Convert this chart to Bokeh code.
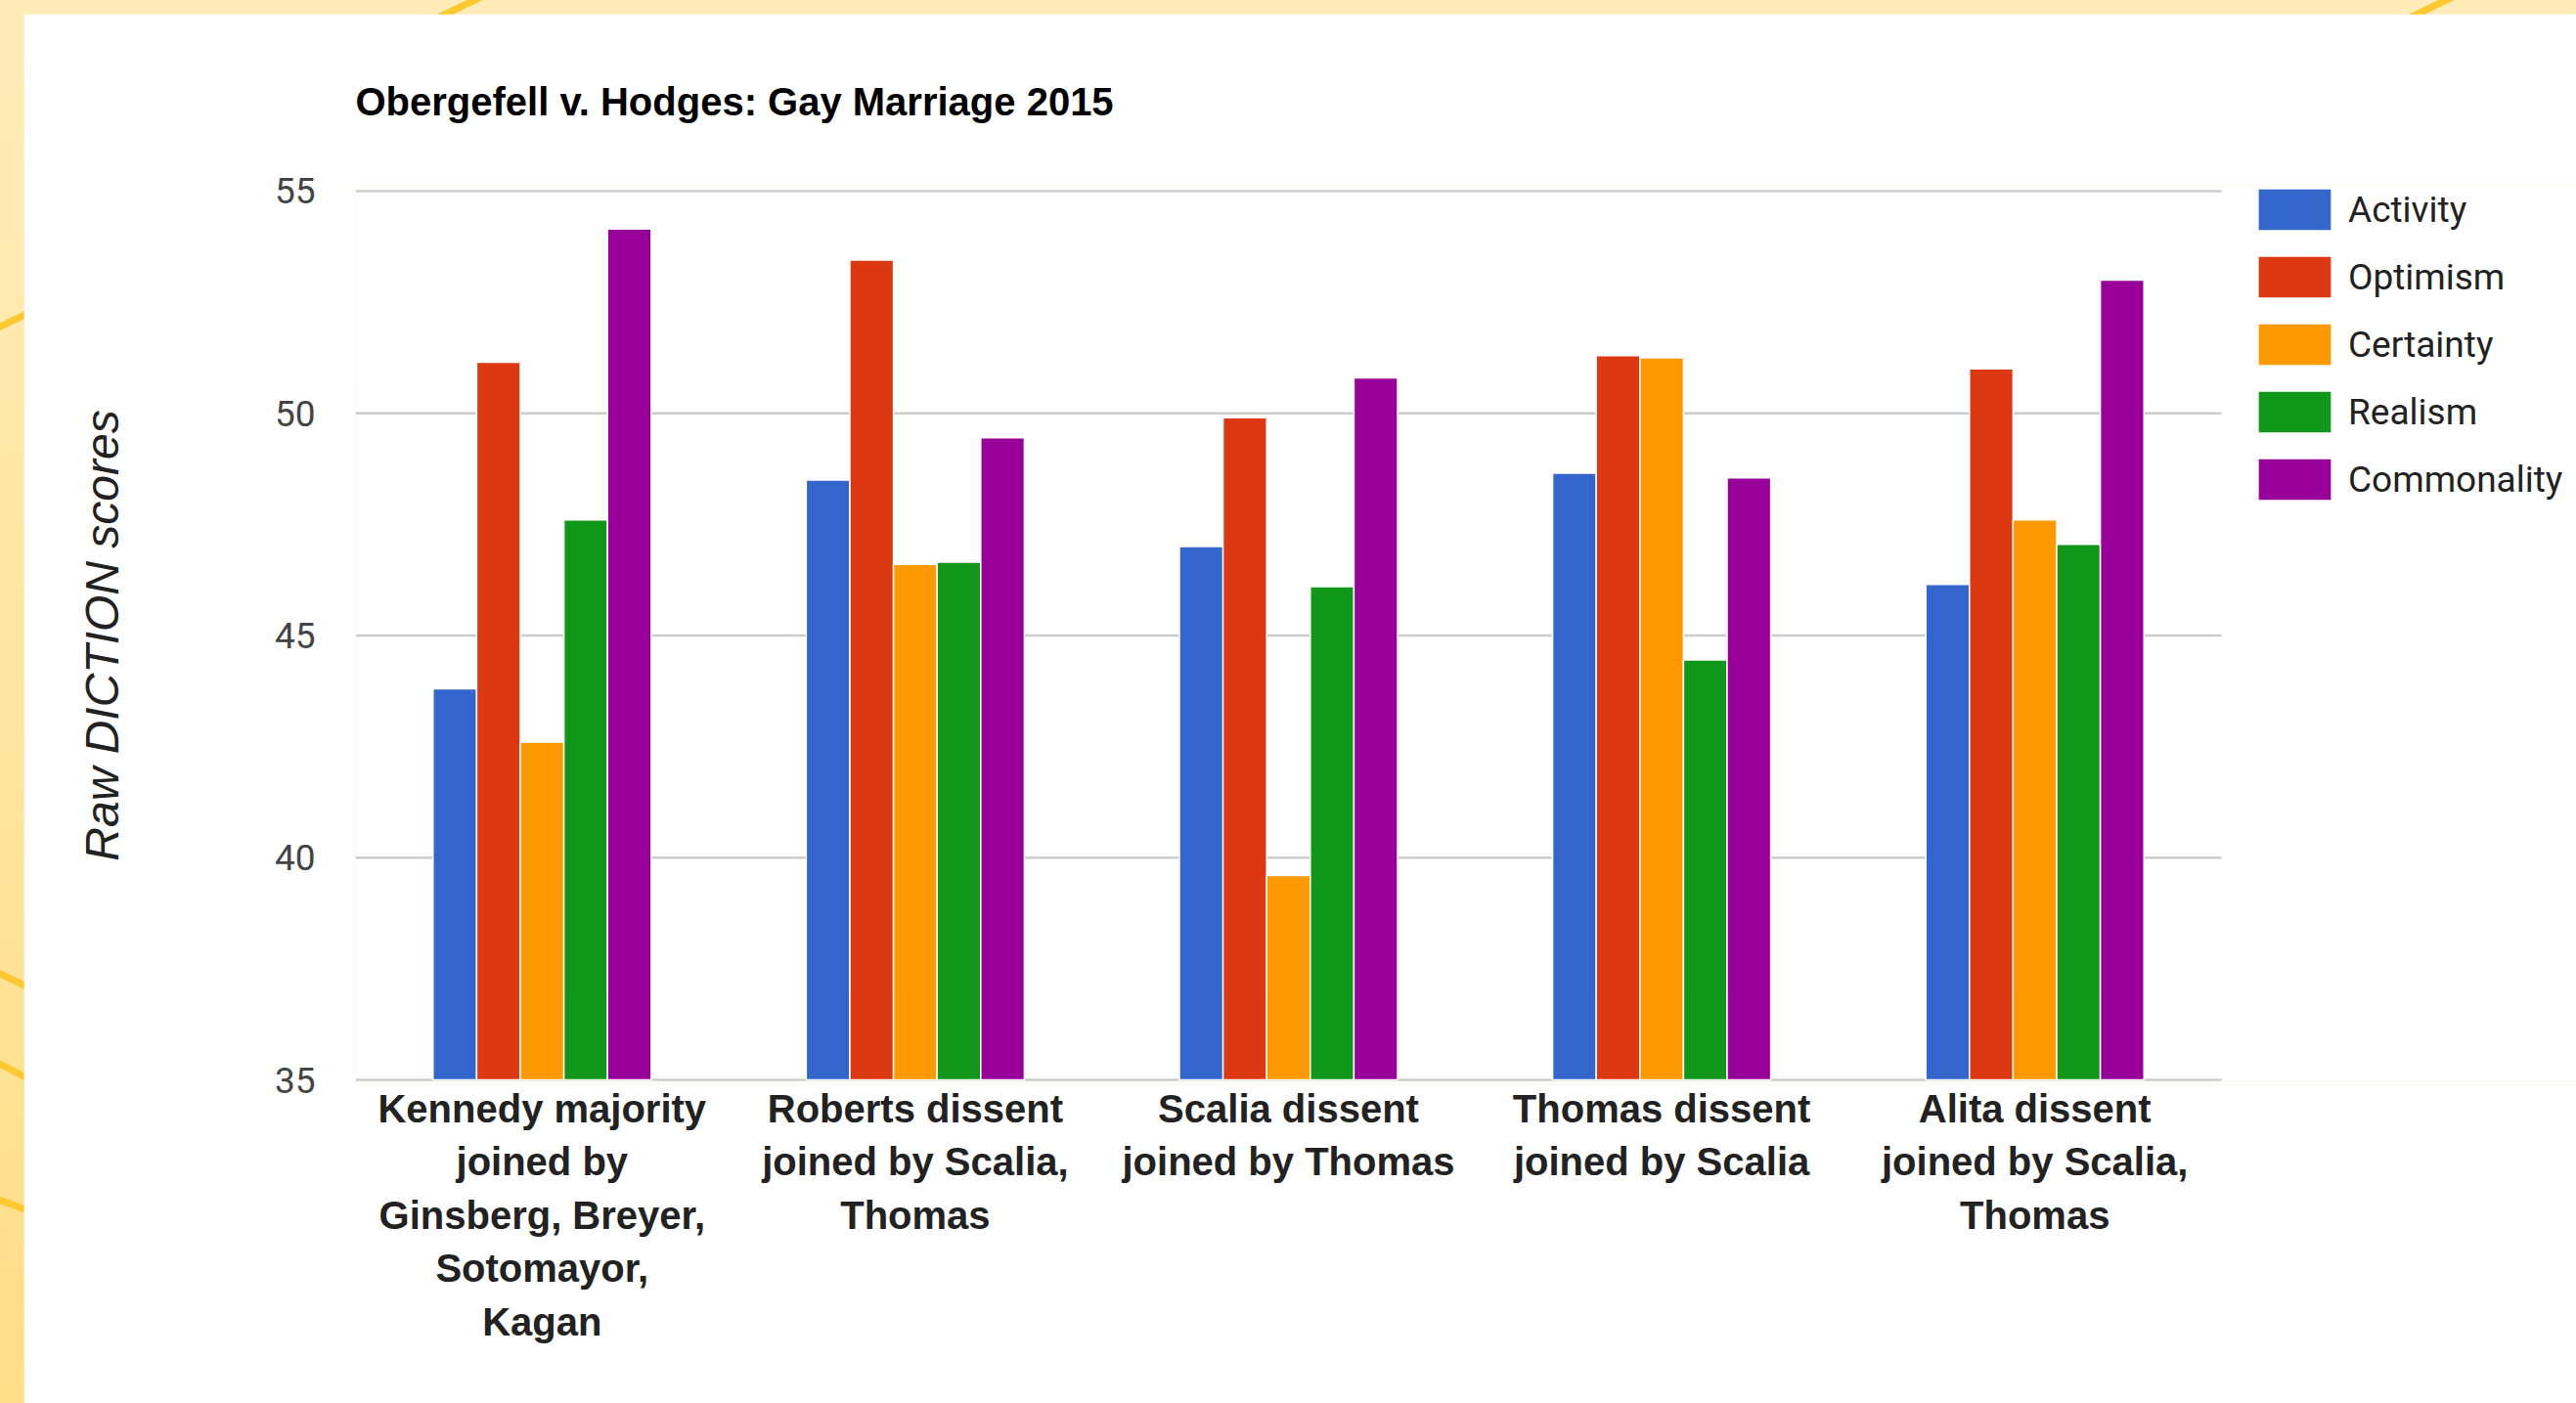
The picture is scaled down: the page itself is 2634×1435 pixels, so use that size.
from bokeh.plotting import figure
from bokeh.layouts import column, row
from bokeh.models import (ColumnDataSource, Legend, LegendItem, Range1d,
                          FixedTicker, GlobalInlineStyleSheet, Spacer)
from bokeh.transform import dodge
from bokeh.embed import file_html
from bokeh.resources import INLINE

# ---------------- data ----------------
title_text = "Obergefell v. Hodges: Gay Marriage 2015"
y_title = "Raw DICTION scores"
categories = [
    "Kennedy majority\njoined by\nGinsberg, Breyer,\nSotomayor,\nKagan",
    "Roberts dissent\njoined by Scalia,\nThomas",
    "Scalia dissent\njoined by Thomas",
    "Thomas dissent\njoined by Scalia",
    "Alita dissent\njoined by Scalia,\nThomas",
]
series_names = ["Activity", "Optimism", "Certainty", "Realism", "Commonality"]
activity = [43.8, 48.5, 47.0, 48.65, 46.15]
optimism = [51.15, 53.45, 49.9, 51.3, 51.0]
certainty = [42.6, 46.6, 39.6, 51.25, 47.6]
realism = [47.6, 46.65, 46.1, 44.45, 47.05]
commonality = [54.15, 49.45, 50.8, 48.55, 53.0]
y_ticks = [35, 40, 45, 50, 55]

series_values = [activity, optimism, certainty, realism, commonality]
colors = ["#3366CC", "#DC3912", "#FF9900", "#109618", "#990099"]

# ---------------- layout constants ----------------
W, H = 2610, 1421
BL, BT = 339, 174
FH = 921
BB = H - BT - FH
FW = W - BL
CAT_PX = 381.6            # pixel width of one category slot
Y_PAD = 0.11              # small padding so the top grid line is not clipped

xs = list(range(len(categories)))
p = figure(width=W, height=H,
           x_range=Range1d(-0.5, -0.5 + FW / CAT_PX),
           y_range=Range1d(y_ticks[0] - Y_PAD, y_ticks[-1] + Y_PAD),
           output_backend="svg", toolbar_location=None,
           min_border_left=BL, min_border_right=0,
           min_border_top=BT, min_border_bottom=BB)
p.background_fill_color = "white"
p.border_fill_color = "white"
p.outline_line_color = None

p.title.text = title_text
p.title.text_font = "Liberation Sans"
p.title.text_font_style = "bold"
p.title.text_font_size = "40px"
p.title.text_color = "#000000"
p.title.align = "left"
p.title.standoff = 130

# grid lines (only across the category area)
p.xgrid.grid_line_color = None
p.ygrid.grid_line_color = None
grid_src = ColumnDataSource(dict(y=y_ticks,
                                 x0=[xs[0] - 0.5] * len(y_ticks),
                                 x1=[xs[-1] + 0.5] * len(y_ticks)))
p.segment(x0="x0", x1="x1", y0="y", y1="y", source=grid_src,
          line_color="#cccccc", line_width=2.5)

bw = 0.1169
renderers = []
for i, (name, vals, col) in enumerate(zip(series_names, series_values, colors)):
    src = ColumnDataSource(dict(x=xs, val=vals))
    r = p.vbar(x=dodge("x", (i - 2) * bw), top="val",
               bottom=y_ticks[0], width=bw, source=src,
               fill_color=col, line_color="white", line_width=1.5)
    renderers.append((name, r))

# axes
p.xaxis.ticker = FixedTicker(ticks=xs, minor_ticks=[])
p.xaxis.major_label_overrides = {x: c for x, c in zip(xs, categories)}
p.xaxis.axis_line_color = None
p.xaxis.major_tick_line_color = None
p.xaxis.minor_tick_line_color = None
p.xaxis.major_label_text_font = "Liberation Sans"
p.xaxis.major_label_text_font_style = "bold"
p.xaxis.major_label_text_font_size = "40px"
p.xaxis.major_label_text_color = "#222222"
p.xaxis.major_label_text_line_height = 1.24
p.xaxis.major_label_standoff = -4
p.xaxis.major_label_orientation = "horizontal"

p.yaxis.ticker = FixedTicker(ticks=y_ticks, minor_ticks=[])
p.yaxis.axis_line_color = None
p.yaxis.major_tick_line_color = None
p.yaxis.minor_tick_line_color = None
p.yaxis.major_label_text_font = "Roboto"
p.yaxis.major_label_text_font_size = "37px"
p.yaxis.major_label_text_color = "#444444"
p.yaxis.major_label_standoff = 35
p.yaxis.axis_label = y_title
p.yaxis.axis_label_text_font = "Liberation Sans"
p.yaxis.axis_label_text_font_style = "italic"
p.yaxis.axis_label_text_font_size = "48px"
p.yaxis.axis_label_text_color = "#222222"
p.yaxis.axis_label_standoff = 147

# legend (inside the extended frame, to the right of the bars)
# area-glyph legend swatches are drawn inset by 10% on each side
n_items = len(series_names)
glyph_w, glyph_h, gap = 94, 54, 15
leg_h = n_items * glyph_h + (n_items - 1) * gap
LEG_LEFT, LEG_TOP = 1936, -1
legend = Legend(items=[LegendItem(label=n, renderers=[r]) for n, r in renderers],
                location=(LEG_LEFT, FH - LEG_TOP - leg_h), orientation="vertical",
                glyph_width=glyph_w, glyph_height=glyph_h, label_height=glyph_h,
                label_standoff=8, spacing=gap, padding=0, margin=0,
                border_line_color=None, background_fill_alpha=0,
                label_text_font="Roboto",
                label_text_font_size="37px", label_text_color="#222222")
p.add_layout(legend, "center")

# page background: pale yellow with a few decorative orange strokes
deco = ("<svg xmlns=\"http://www.w3.org/2000/svg\" width=\"2634\" height=\"1435\">"
        "<g stroke=\"%23FFC82E\" stroke-width=\"7\" fill=\"none\">"
        "<path d=\"M448 18 L494 -4\"/><path d=\"M2464 18 L2510 -4\"/>"
        "<path d=\"M-4 336 L34 318\"/><path d=\"M-4 994 L34 1012\"/>"
        "<path d=\"M-4 1086 L34 1106\"/><path d=\"M-4 1226 L34 1240\"/>"
        "</g></svg>")
css = ("html{min-height:100%;background:url('data:image/svg+xml;utf8," + deco +
       "') no-repeat 0 0, linear-gradient(to bottom,#FFECB8,#FFDE88);}"
       "body{background:transparent;}")

page = column(Spacer(height=14),
              row(Spacer(width=24), p, spacing=0),
              spacing=0)
page.stylesheets = [GlobalInlineStyleSheet(css=css)]

open("out.html", "w").write(file_html(page, INLINE))
